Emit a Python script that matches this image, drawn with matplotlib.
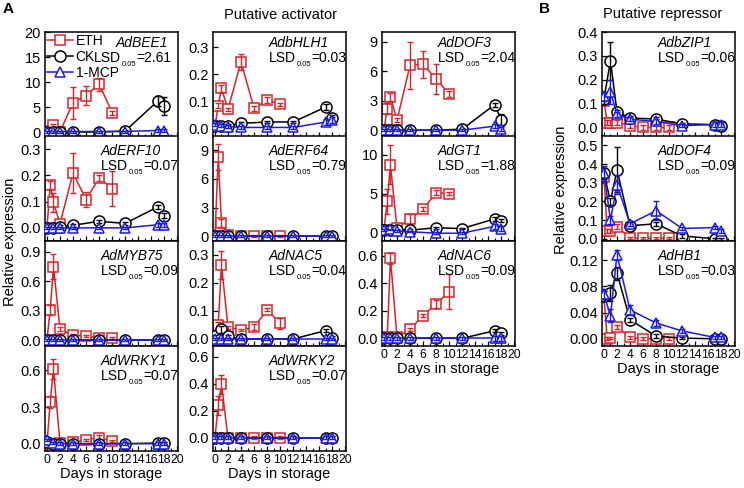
import numpy as np
import matplotlib.pyplot as plt
from matplotlib.lines import Line2D

plt.rcParams['font.family'] = 'Liberation Sans'

# sampling days
eth_days = [0, 0.5, 1, 2, 4, 6, 8, 10]
ctl_days = [0, 1, 2, 4, 8, 12, 17, 18]

# --- putative activators ---
bee1_eth = [0.0, 0.3, 1.4, 0.0, 5.9, 7.3, 9.6, 3.9]
bee1_eth_err = [0, 0, 0.3, 0, 3.2, 1.9, 1.3, 0.4]
bee1_ck = [0, 0, 0, 0, 0, 0.2, 6.2, 5.2]
bee1_ck_err = [0.1, 0.1, 0.1, 0.1, 0.1, 0.3, 1.0, 1.8]
bee1_mcp = [0.1, 0.1, 0.1, 0.1, 0.1, 0.1, 0.3, 0.3]
bee1_mcp_err = [0.2, 0.2, 0.2, 0.2, 0.2, 0.2, 0.3, 0.3]

bhlh1_eth = [0.01, 0.085, 0.148, 0.072, 0.245, 0.075, 0.105, 0.09]
bhlh1_eth_err = [0, 0.01, 0.012, 0.005, 0.028, 0.008, 0.01, 0.005]
bhlh1_ck = [0.01, 0.012, 0.012, 0.02, 0.025, 0.025, 0.08, 0.04]
bhlh1_ck_err = [0.005, 0.005, 0.005, 0.005, 0.005, 0.005, 0.01, 0.01]
bhlh1_mcp = [0.015, 0.012, 0.008, 0.005, 0.005, 0.005, 0.025, 0.032]
bhlh1_mcp_err = [0.005, 0.005, 0.005, 0.005, 0.005, 0.005, 0.01, 0.01]

dof3_eth = [0.0, 2.2, 3.4, 1.0, 6.6, 6.7, 5.2, 3.7]
dof3_eth_err = [0, 0.6, 0.4, 0.2, 2.4, 1.4, 1.5, 0.3]
dof3_ck = [0, 0, 0, 0, 0, 0.1, 2.6, 1.0]
dof3_ck_err = [0.1, 0.1, 0.1, 0.1, 0.1, 0.1, 0.2, 0.6]
dof3_mcp = [0, 0, 0, 0, 0, 0, 0.4, 0.1]
dof3_mcp_err = [0.1, 0.1, 0.1, 0.1, 0.1, 0.1, 0.2, 0.2]

erf10_eth = [0.0, 0.165, 0.097, 0.016, 0.209, 0.108, 0.19, 0.15]
erf10_eth_err = [0, 0.015, 0.035, 0.005, 0.075, 0.03, 0.01, 0.065]
erf10_ck = [0.0, 0.0, 0.005, 0.01, 0.025, 0.017, 0.08, 0.047]
erf10_ck_err = [0.005, 0.005, 0.005, 0.005, 0.005, 0.005, 0.008, 0.008]
erf10_mcp = [0, 0, 0, 0, 0, 0, 0.012, 0.012]
erf10_mcp_err = [0.005, 0.005, 0.005, 0.005, 0.005, 0.005, 0.008, 0.008]

erf64_eth = [0.0, 8.3, 1.4, 0.1, 0.0, 0.0, 0.0, 0.0]
erf64_eth_err = [0, 1.4, 0.4, 0.1, 0.1, 0.1, 0.1, 0.1]
erf64_ck = [0, 0, 0, 0, 0, 0, 0, 0]
erf64_ck_err = [0.1, 0.1, 0.1, 0.1, 0.1, 0.1, 0.1, 0.1]
erf64_mcp = [0, 0, 0, 0, 0, 0, 0, 0]
erf64_mcp_err = [0.1, 0.1, 0.1, 0.1, 0.1, 0.1, 0.1, 0.1]

gt1_eth = [0.3, 4.0, 8.7, 0.55, 1.75, 3.0, 5.1, 5.0]
gt1_eth_err = [0, 1.6, 2.5, 0.1, 0.6, 0.3, 0.3, 0.2]
gt1_ck = [0.3, 0.3, 0.3, 0.3, 0.6, 0.5, 1.75, 1.5]
gt1_ck_err = [0.1, 0.1, 0.1, 0.1, 0.1, 0.1, 0.3, 0.2]
gt1_mcp = [0.3, 0.4, 0.2, 0.1, -0.1, -0.1, 0.8, 0.5]
gt1_mcp_err = [0.1, 0.1, 0.1, 0.1, 0.1, 0.1, 0.3, 0.3]

myb75_eth = [0.0, 0.31, 0.75, 0.11, 0.05, 0.04, 0.025, 0.02]
myb75_eth_err = [0, 0.05, 0.13, 0.02, 0.01, 0.01, 0.01, 0.01]
myb75_ck = [0, 0, 0, 0, 0, 0, 0, 0]
myb75_ck_err = [0.01, 0.01, 0.01, 0.01, 0.01, 0.01, 0.01, 0.01]
myb75_mcp = [0, 0, 0, 0, 0, 0, 0, 0]
myb75_mcp_err = [0.01, 0.01, 0.01, 0.01, 0.01, 0.01, 0.01, 0.01]

nac5_eth = [0.005, 0.05, 0.265, 0.042, 0.032, 0.042, 0.104, 0.056]
nac5_eth_err = [0, 0.01, 0.05, 0.005, 0.005, 0.01, 0.005, 0.02]
nac5_ck = [0.01, 0.035, 0.01, 0.0, 0.0, 0.0, 0.03, 0.005]
nac5_ck_err = [0.005, 0.012, 0.005, 0.005, 0.005, 0.005, 0.005, 0.005]
nac5_mcp = [0, 0, 0, 0, 0, 0, 0, 0]
nac5_mcp_err = [0.005, 0.005, 0.005, 0.005, 0.005, 0.005, 0.005, 0.005]

nac6_eth = [0.0, 0.01, 0.58, 0.007, 0.065, 0.165, 0.25, 0.34]
nac6_eth_err = [0, 0.01, 0.04, 0.005, 0.01, 0.01, 0.03, 0.13]
nac6_ck = [0, 0, 0, 0, 0, 0, 0.055, 0.036]
nac6_ck_err = [0.01, 0.01, 0.01, 0.01, 0.01, 0.01, 0.01, 0.01]
nac6_mcp = [0, 0, 0, 0, 0, 0, 0, 0]
nac6_mcp_err = [0.01, 0.01, 0.01, 0.01, 0.01, 0.01, 0.02, 0.02]

wrky1_eth = [0.0, 0.34, 0.61, 0.005, 0.01, 0.032, 0.05, 0.02]
wrky1_eth_err = [0, 0.05, 0.08, 0.005, 0.005, 0.01, 0.02, 0.01]
wrky1_ck = [0.01, 0, 0, 0, 0, 0, 0.005, 0.005]
wrky1_ck_err = [0.01, 0.01, 0.01, 0.01, 0.01, 0.01, 0.01, 0.01]
wrky1_mcp = [0.03, 0.005, 0, 0, 0, 0, 0, 0]
wrky1_mcp_err = [0.01, 0.01, 0.01, 0.01, 0.01, 0.01, 0.01, 0.01]

wrky2_eth = [0.0, 0.24, 0.395, 0.0, 0.0, 0.0, 0.0, 0.0]
wrky2_eth_err = [0, 0.07, 0.07, 0.01, 0.01, 0.01, 0.01, 0.01]
wrky2_ck = [0, 0, 0, 0, 0, 0, 0, 0]
wrky2_ck_err = [0.01, 0.01, 0.01, 0.01, 0.01, 0.01, 0.01, 0.01]
wrky2_mcp = [0, 0, 0, 0, 0, 0, 0, 0]
wrky2_mcp_err = [0.01, 0.01, 0.01, 0.01, 0.01, 0.01, 0.01, 0.01]

# --- putative repressors ---
bzip1_eth = [0.11, 0.02, 0.02, 0.02, 0.008, 0.0, 0.0, 0.0]
bzip1_eth_err = [0.01, 0.01, 0.01, 0.01, 0.01, 0.01, 0.01, 0.01]
bzip1_ck = [0.12, 0.28, 0.065, 0.04, 0.035, 0.015, 0.012, 0.008]
bzip1_ck_err = [0.02, 0.08, 0.01, 0.01, 0.01, 0.005, 0.005, 0.005]
bzip1_mcp = [0.13, 0.15, 0.055, 0.035, 0.025, 0.008, 0.012, 0.012]
bzip1_mcp_err = [0.02, 0.05, 0.01, 0.01, 0.01, 0.005, 0.01, 0.01]

dof4_eth = [0.33, 0.04, 0.04, 0.065, 0.005, 0.003, 0.003, 0.003]
dof4_eth_err = [0.02, 0.01, 0.01, 0.015, 0.005, 0.005, 0.005, 0.005]
dof4_ck = [0.35, 0.2, 0.37, 0.07, 0.08, 0.015, 0.0, 0.0]
dof4_ck_err = [0.03, 0.02, 0.12, 0.01, 0.01, 0.01, 0.005, 0.005]
dof4_mcp = [0.35, 0.1, 0.29, 0.08, 0.15, 0.055, 0.06, 0.04]
dof4_mcp_err = [0.04, 0.02, 0.05, 0.01, 0.05, 0.01, 0.01, 0.01]

hb1_eth = [0.065, 0.0, 0.001, 0.018, 0.002, 0.0, 0.0, 0.0]
hb1_eth_err = [0.005, 0.002, 0.002, 0.003, 0.002, 0.002, 0.002, 0.002]
hb1_ck = [0.065, 0.07, 0.1, 0.029, 0.004, 0.001, 0.0, 0.0]
hb1_ck_err = [0.008, 0.012, 0.01, 0.003, 0.003, 0.002, 0.002, 0.002]
hb1_mcp = [0.068, 0.035, 0.128, 0.044, 0.024, 0.012, 0.002, 0.002]
hb1_mcp_err = [0.008, 0.01, 0.008, 0.008, 0.004, 0.003, 0.002, 0.002]

RED = '#d8232a'
BLUE = '#1a1ae6'

W, H = 744, 488
fig = plt.figure(figsize=(W / 100, H / 100), dpi=100)

col_left = [45, 213, 382, 602]
row_top = [32, 136, 241, 346]
ax_w, ax_h = 133, 105


def make_ax(col, row):
    return fig.add_axes([col_left[col] / W, 1 - (row_top[row] + ax_h) / H,
                         ax_w / W, ax_h / H])


def lsd_label(ax, x, y, val):
    # LSD with a small, low subscript like the original
    t1 = ax.text(x, y, 'LSD', transform=ax.transAxes, fontsize=10,
                 va='center', ha='left')
    t2 = ax.annotate('0.05', xy=(1, 0), xycoords=t1, xytext=(0.3, 0.5),
                     textcoords='offset points', fontsize=5.5,
                     va='center', ha='left')
    ax.annotate('=' + val, xy=(1, 0), xycoords=(t2, t1), xytext=(0.3, 0),
                textcoords='offset points', fontsize=10,
                va='bottom', ha='left')


# (gene, lsd, col, row, ylim, yticks, yfmt, data, bottom)
panels = [
    ('AdBEE1', '2.61', 0, 0, (-1, 20), [0, 5, 10, 15, 20], '%d',
     (bee1_eth, bee1_eth_err, bee1_ck, bee1_ck_err, bee1_mcp, bee1_mcp_err), False),
    ('AdERF10', '0.07', 0, 1, (-0.05, 0.35), [0, 0.1, 0.2, 0.3], '%.1f',
     (erf10_eth, erf10_eth_err, erf10_ck, erf10_ck_err, erf10_mcp, erf10_mcp_err), False),
    ('AdMYB75', '0.09', 0, 2, (-0.06, 1.01), [0, 0.3, 0.6, 0.9], '%.1f',
     (myb75_eth, myb75_eth_err, myb75_ck, myb75_ck_err, myb75_mcp, myb75_mcp_err), False),
    ('AdWRKY1', '0.07', 0, 3, (-0.06, 0.8), [0, 0.3, 0.6], '%.1f',
     (wrky1_eth, wrky1_eth_err, wrky1_ck, wrky1_ck_err, wrky1_mcp, wrky1_mcp_err), True),
    ('AdbHLH1', '0.03', 1, 0, (-0.03, 0.355), [0, 0.1, 0.2, 0.3], '%.1f',
     (bhlh1_eth, bhlh1_eth_err, bhlh1_ck, bhlh1_ck_err, bhlh1_mcp, bhlh1_mcp_err), False),
    ('AdERF64', '0.79', 1, 1, (-0.5, 10.5), [0, 3, 6, 9], '%d',
     (erf64_eth, erf64_eth_err, erf64_ck, erf64_ck_err, erf64_mcp, erf64_mcp_err), False),
    ('AdNAC5', '0.04', 1, 2, (-0.025, 0.35), [0, 0.1, 0.2, 0.3], '%.1f',
     (nac5_eth, nac5_eth_err, nac5_ck, nac5_ck_err, nac5_mcp, nac5_mcp_err), False),
    ('AdWRKY2', '0.07', 1, 3, (-0.1, 0.68), [0, 0.2, 0.4, 0.6], '%.1f',
     (wrky2_eth, wrky2_eth_err, wrky2_ck, wrky2_ck_err, wrky2_mcp, wrky2_mcp_err), True),
    ('AdDOF3', '2.04', 2, 0, (-0.7, 10), [0, 3, 6, 9], '%d',
     (dof3_eth, dof3_eth_err, dof3_ck, dof3_ck_err, dof3_mcp, dof3_mcp_err), False),
    ('AdGT1', '1.88', 2, 1, (-1.1, 12.4), [0, 5, 10], '%d',
     (gt1_eth, gt1_eth_err, gt1_ck, gt1_ck_err, gt1_mcp, gt1_mcp_err), False),
    ('AdNAC6', '0.09', 2, 2, (-0.056, 0.707), [0, 0.2, 0.4, 0.6], '%.1f',
     (nac6_eth, nac6_eth_err, nac6_ck, nac6_ck_err, nac6_mcp, nac6_mcp_err), True),
    ('AdbZIP1', '0.06', 3, 0, (-0.04, 0.4), [0, 0.1, 0.2, 0.3, 0.4], '%.1f',
     (bzip1_eth, bzip1_eth_err, bzip1_ck, bzip1_ck_err, bzip1_mcp, bzip1_mcp_err), False),
    ('AdDOF4', '0.09', 3, 1, (-0.012, 0.55), [0, 0.1, 0.2, 0.3, 0.4, 0.5], '%.1f',
     (dof4_eth, dof4_eth_err, dof4_ck, dof4_ck_err, dof4_mcp, dof4_mcp_err), False),
    ('AdHB1', '0.03', 3, 2, (-0.011, 0.149), [0, 0.04, 0.08, 0.12], '%.2f',
     (hb1_eth, hb1_eth_err, hb1_ck, hb1_ck_err, hb1_mcp, hb1_mcp_err), True),
]

styles = [
    (eth_days, RED, 's', 6.5),
    (ctl_days, 'black', 'o', 8.0),
    (ctl_days, BLUE, '^', 7.5),
]

for gene, lsd, col, row, ylim, yticks, yfmt, data, bottom in panels:
    ax = make_ax(col, row)
    for k, (days, c, m, ms) in enumerate(styles):
        vals, errs = data[2 * k], data[2 * k + 1]
        ax.plot(days, vals, color=c, marker=m, ms=ms, mfc='white', mec=c,
                mew=1.1, lw=1.1, zorder=2 + k)
        ax.errorbar(days, vals, yerr=errs, fmt='none', ecolor=c, elinewidth=1.0,
                    capsize=2.2, capthick=1.0, zorder=2.5 + k)
    ax.set_xlim(-0.3, 20.1)
    ax.set_ylim(*ylim)
    ax.set_xticks(range(0, 21, 2))
    ax.set_xticks(range(1, 20, 2), minor=True)
    ax.set_yticks(yticks)
    ax.set_yticklabels([yfmt % t for t in yticks])
    ax.tick_params(direction='in', length=3.5, width=0.9, labelsize=10.5, pad=2)
    ax.tick_params(axis='x', labelsize=8.8)
    ax.tick_params(which='minor', direction='in', length=2, width=0.8)
    ax.tick_params(axis='y', pad=3)
    if bottom:
        ax.set_xlabel('Days in storage', fontsize=10.5, labelpad=1)
    else:
        ax.set_xticklabels([])
    for s in ax.spines.values():
        s.set_linewidth(1.1)

    gy, ly = (0.90, 0.75) if row == 0 else (0.855, 0.71)
    gx = 0.42
    if gene == 'AdBEE1':
        ax.text(0.53, gy, gene, transform=ax.transAxes, fontsize=10,
                style='italic', va='center', ha='left')
        lsd_label(ax, 0.37, ly, lsd)
        handles = [Line2D([], [], color=c, marker=m, ms=ms, mfc='white', mec=c,
                          mew=1.1, lw=1.1) for _, c, m, ms in styles]
        ax.legend(handles, ['ETH', 'CK', '1-MCP'], loc='upper left',
                  frameon=False, fontsize=10, handlelength=1.9,
                  handletextpad=0.15, labelspacing=0.15, borderaxespad=0.05,
                  borderpad=0.1)
    else:
        ax.text(gx, gy, gene, transform=ax.transAxes, fontsize=10,
                style='italic', va='center', ha='left')
        lsd_label(ax, gx, ly, lsd)

fig.text(10 / W, 1 - 242 / H, 'Relative expression', rotation=90,
         fontsize=10.5, ha='center', va='center')
fig.text(561 / W, 1 - 190 / H, 'Relative expression', rotation=90,
         fontsize=10.5, ha='center', va='center')
fig.text(280 / W, 1 - 15 / H, 'Putative activator', fontsize=10.5,
         ha='center', va='center')
fig.text(663 / W, 1 - 14 / H, 'Putative repressor', fontsize=10.5,
         ha='center', va='center')
fig.text(8 / W, 1 - 9 / H, 'A', fontsize=11, fontweight='bold',
         ha='center', va='center')
fig.text(545 / W, 1 - 9 / H, 'B', fontsize=11, fontweight='bold',
         ha='center', va='center')

fig.savefig('out.png', dpi=100)
